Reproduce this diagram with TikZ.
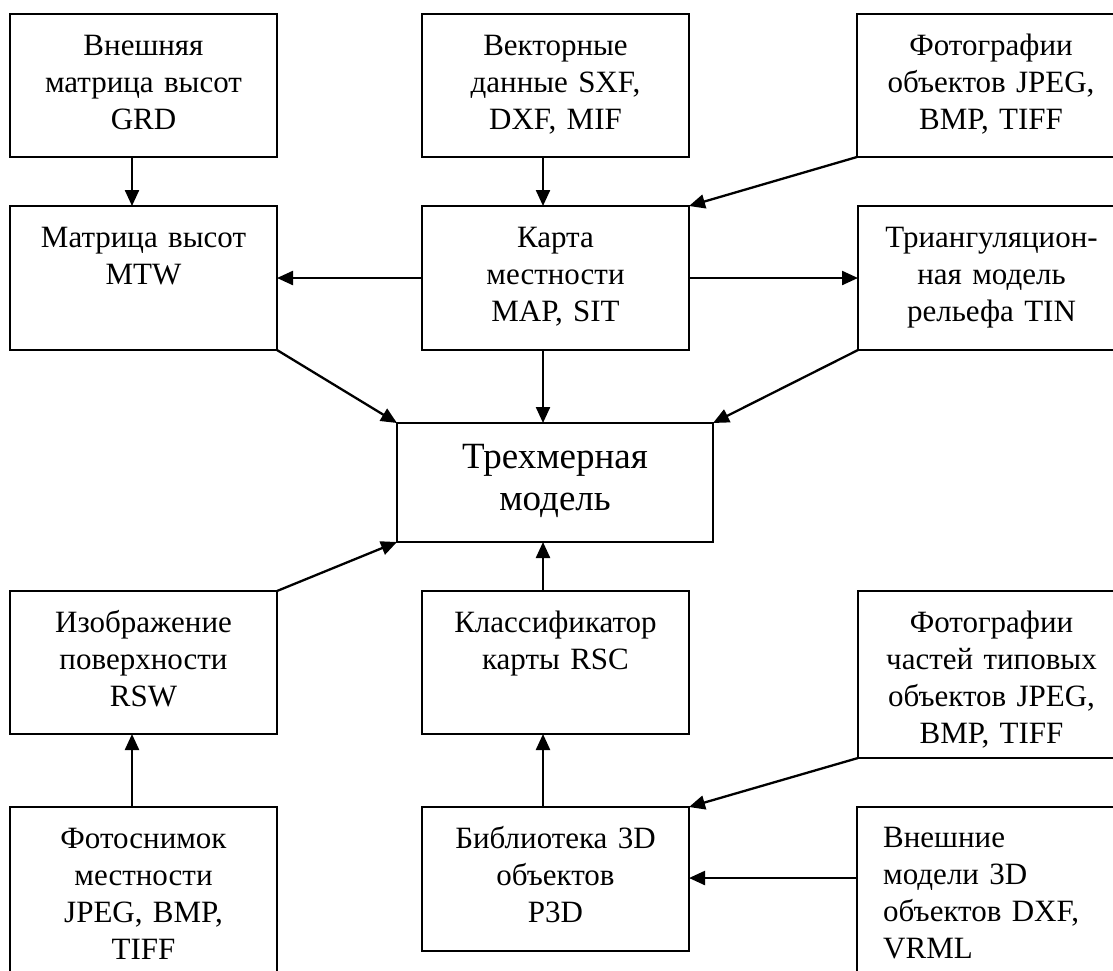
\documentclass[tikz,border=0pt]{standalone}
\usepackage{fontspec}
\setmainfont{Liberation Serif}
\usetikzlibrary{arrows.meta,calc}
\newcommand\mkbox[5]{\node[box, minimum width={#4pt-#2pt}, minimum height={#5pt-#3pt}] (#1) at (#2,#3) {};}
\begin{document}
\begin{tikzpicture}[x=1pt,y=-1pt,
  box/.style={draw, line width=1.7pt, inner sep=0pt, outer sep=0pt, anchor=north west},
  txt/.style={inner sep=0pt, anchor=base, align=center, text width=264pt, font=\fontsize{31}{37}\selectfont},
  bigtxt/.style={txt, text width=310pt, font=\fontsize{37}{42}\selectfont},
  arr/.style={line width=2.3pt, -{Triangle[length=16pt,width=14pt]}}]
\useasboundingbox (0,0) rectangle (1113,970);
\clip (0,0) rectangle (1113,970);
% boxes
\mkbox{b1}{10}{14}{277}{157}
\mkbox{b2}{422}{14}{689}{157}
\mkbox{b3}{857}{14}{1125}{157}
\mkbox{mtw}{10}{206}{277}{350}
\mkbox{map}{422}{206}{689}{350}
\mkbox{tin}{858}{206}{1125}{350}
\mkbox{m3d}{397}{423}{713}{542}
\mkbox{rsw}{10}{591}{277}{734}
\mkbox{rsc}{422}{591}{689}{734}
\mkbox{ph2}{858}{591}{1125}{758}
\mkbox{foto}{10}{807}{277}{990}
\mkbox{lib}{422}{807}{689}{951}
\mkbox{ext}{857}{807}{1125}{990}
% texts
\node[txt] (t1) at ($(b1.north)+(0,41)$) {Внешняя\\матрица высот\\GRD};
\node[txt] (t2) at ($(b2.north)+(0,41)$) {Векторные\\данные SXF,\\DXF, MIF};
\node[txt] (t3) at ($(b3.north)+(0,41)$) {Фотографии\\объектов JPEG,\\BMP, TIFF};
\node[txt] (t4) at ($(mtw.north)+(0,41)$) {Матрица высот\\MTW};
\node[txt] (t5) at ($(map.north)+(0,41)$) {Карта\\местности\\MAP, SIT};
\node[txt] (t6) at ($(tin.north)+(0,41)$) {Триангуляцион-\\ная модель\\рельефа TIN};
\node[bigtxt] (t7) at ($(m3d.north)+(0,45)$) {Трехмерная\\модель};
\node[txt] (t8) at ($(rsw.north)+(0,41)$) {Изображение\\поверхности\\RSW};
\node[txt] (t9) at ($(rsc.north)+(0,41)$) {Классификатор\\карты RSC};
\node[txt] (t10) at ($(ph2.north)+(0,41)$) {Фотографии\\частей типовых\\объектов JPEG,\\BMP, TIFF};
\node[txt] (t11) at ($(foto.north)+(0,41)$) {Фотоснимок\\местности\\JPEG, BMP,\\TIFF};
\node[txt] (t12) at ($(lib.north)+(0,41)$) {Библиотека 3D\\объектов\\P3D};
\node[txt, anchor=base west, align=left, text width=240pt] (t13) at ($(ext.north west)+(26,40)$) {Внешние\\модели 3D\\объектов DXF,\\VRML};
% connectors
\draw[arr] ($(b1.south west)+(122,0)$) -- ($(mtw.north west)+(122,0)$);
\draw[arr] ($(b2.south west)+(121,0)$) -- ($(map.north west)+(121,0)$);
\draw[arr] (b3.south west) -- (map.north east);
\draw[arr] ($(map.north west)+(0,72)$) -- ($(mtw.north east)+(0,72)$);
\draw[arr] ($(map.north east)+(0,72)$) -- ($(tin.north west)+(0,72)$);
\draw[arr] (mtw.south east) -- (m3d.north west);
\draw[arr] ($(map.south west)+(121,0)$) -- ($(m3d.north west)+(146,0)$);
\draw[arr] (tin.south west) -- (m3d.north east);
\draw[arr] (rsw.north east) -- (m3d.south west);
\draw[arr] ($(rsc.north west)+(121,0)$) -- ($(m3d.south west)+(146,0)$);
\draw[arr] ($(foto.north west)+(122,0)$) -- ($(rsw.south west)+(122,0)$);
\draw[arr] ($(lib.north west)+(121,0)$) -- ($(rsc.south west)+(121,0)$);
\draw[arr] (ph2.south west) -- (lib.north east);
\draw[arr] ($(ext.north west)+(0,71)$) -- ($(lib.north east)+(0,71)$);
\end{tikzpicture}
\end{document}
